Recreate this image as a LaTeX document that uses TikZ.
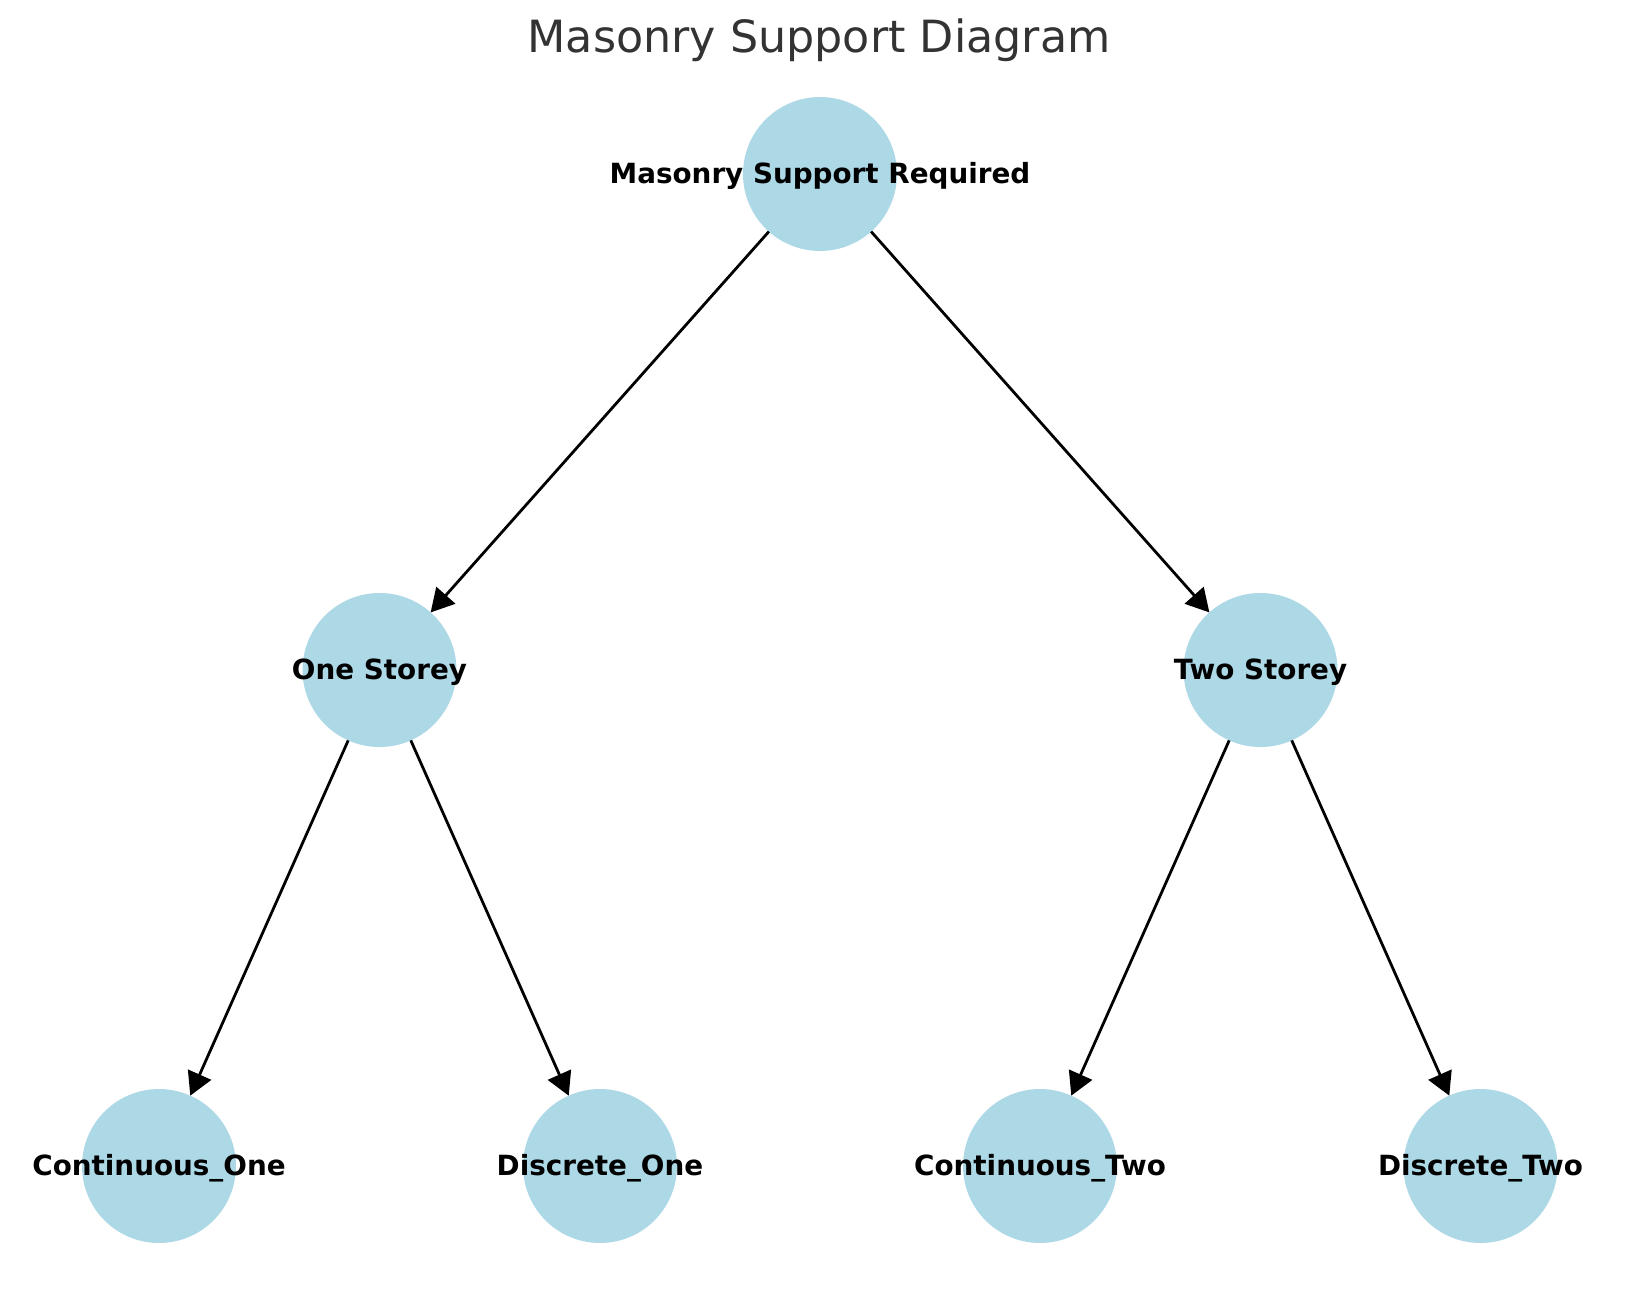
\documentclass[tikz,border=0pt]{standalone}
\usepackage{fontspec}
\setmainfont{DejaVu Sans}
\usetikzlibrary{arrows.meta}
\definecolor{nodeblue}{HTML}{ADD8E6}
\definecolor{titlegray}{HTML}{333333}
\begin{document}
\begin{tikzpicture}[x=1pt,y=-1pt,
  circ/.style={circle,fill=nodeblue,minimum size=154pt,inner sep=0pt,outer sep=0pt},
  lbl/.style={anchor=base,inner sep=0pt,text=black,font=\fontsize{27.8}{30}\selectfont\bfseries},
  edge/.style={draw=black,line width=2.78pt,-{Triangle[length=23pt,width=25pt]}}]
\useasboundingbox (0,0) rectangle (1639,1290);
\node[anchor=base,inner sep=0pt,text=titlegray,font=\fontsize{44.4}{50}\selectfont] (title) at (819,53) {Masonry Support Diagram};
% circles
\node[circ] (top) at (820,174) {};
\node[circ] (one) at (379.5,670) {};
\node[circ] (two) at (1260.5,670) {};
\node[circ] (c1) at (159,1166) {};
\node[circ] (d1) at (600,1166) {};
\node[circ] (c2) at (1040,1166) {};
\node[circ] (d2) at (1480.5,1166) {};
% edges
\draw[edge] (top) -- (one);
\draw[edge] (top) -- (two);
\draw[edge] (one) -- (c1);
\draw[edge] (one) -- (d1);
\draw[edge] (two) -- (c2);
\draw[edge] (two) -- (d2);
% labels
\node[lbl] (ltop) at ([yshift=-9pt]top.center) {Masonry Support Required};
\node[lbl] (lone) at ([yshift=-9pt]one.center) {One Storey};
\node[lbl] (ltwo) at ([yshift=-9pt]two.center) {Two Storey};
\node[lbl] (lc1) at ([yshift=-9pt]c1.center) {Continuous\_One};
\node[lbl] (ld1) at ([yshift=-9pt]d1.center) {Discrete\_One};
\node[lbl] (lc2) at ([yshift=-9pt]c2.center) {Continuous\_Two};
\node[lbl] (ld2) at ([yshift=-9pt]d2.center) {Discrete\_Two};
\end{tikzpicture}
\end{document}
